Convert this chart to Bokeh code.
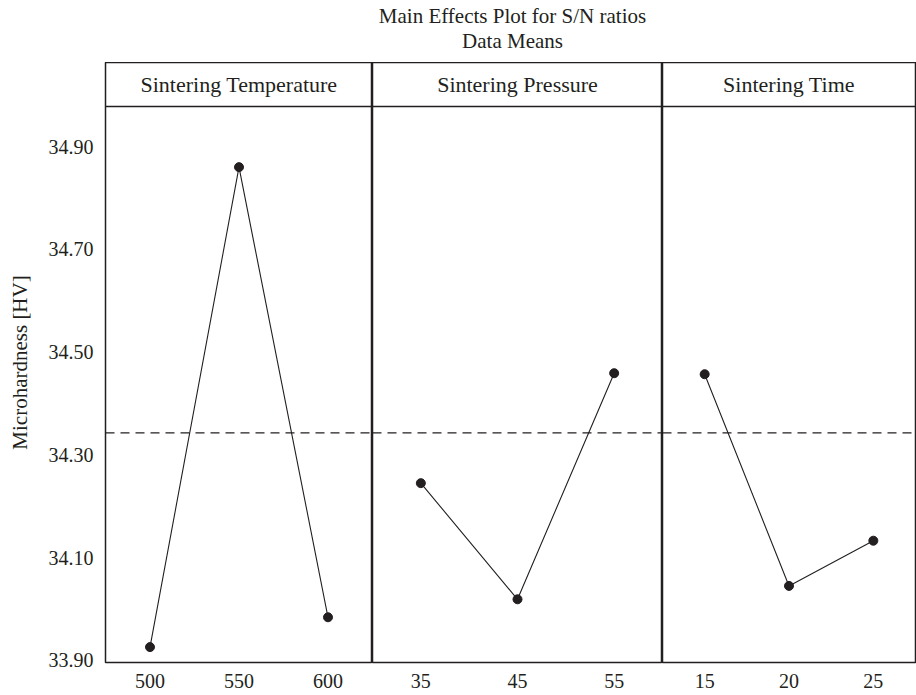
from bokeh.plotting import figure
from bokeh.layouts import column, row
from bokeh.models import Range1d, FactorRange, FixedTicker, PrintfTickFormatter, Span
from bokeh.core.properties import value
from bokeh.embed import file_html
from bokeh.resources import INLINE

# Factor levels and mean S/N responses
factor_names = ["Sintering Temperature", "Sintering Pressure", "Sintering Time"]
temperature_levels = ["500", "550", "600"]
temperature_means = [33.926, 34.860, 33.984]
pressure_levels = ["35", "45", "55"]
pressure_means = [34.245, 34.019, 34.459]
time_levels = ["15", "20", "25"]
time_means = [34.457, 34.045, 34.133]
grand_mean = 34.343
y_ticks = [33.90, 34.10, 34.30, 34.50, 34.70, 34.90]

FONT = "Liberation Serif"
INK = "#231f20"

# vertical geometry: data area plus a header strip inside each frame
frame_h = 600
header_px = 44
y_lo, y_data_top = 33.896, 34.978
units_per_px = (y_data_top - y_lo) / (frame_h - header_px)
y_hi = y_data_top + header_px * units_per_px
header_mid = (y_data_top + y_hi) / 2

panels = [
    (factor_names[0], temperature_levels, temperature_means, 267),
    (factor_names[1], pressure_levels, pressure_means, 290),
    (factor_names[2], time_levels, time_means, 253),
]

figs = []
for i, (name, levels, means, fw) in enumerate(panels):
    first = i == 0
    last = i == len(panels) - 1
    p = figure(
        x_range=FactorRange(*levels),
        y_range=Range1d(y_lo, y_hi),
        frame_width=fw, frame_height=frame_h,
        toolbar_location=None, output_backend="svg",
        y_axis_location="left" if first else None,
        min_border_left=105 if first else 0,
        min_border_right=1 if last else 0,
        min_border_top=0, min_border_bottom=0,
    )
    p.grid.visible = False
    p.outline_line_color = INK
    p.outline_line_width = 1.5
    p.background_fill_color = "white"
    p.border_fill_color = "white"

    xa = p.xaxis[0]
    xa.axis_line_color = None
    xa.major_tick_line_color = None
    xa.minor_tick_line_color = None
    xa.major_label_text_font = FONT
    xa.major_label_text_font_size = "20px"
    xa.major_label_text_color = INK
    xa.major_label_standoff = 5

    if first:
        ya = p.yaxis[0]
        ya.ticker = FixedTicker(ticks=y_ticks)
        ya.formatter = PrintfTickFormatter(format="%.2f")
        ya.axis_line_color = None
        ya.major_tick_line_color = None
        ya.minor_tick_line_color = None
        ya.major_label_text_font = FONT
        ya.major_label_text_font_size = "20px"
        ya.major_label_text_color = INK
        ya.major_label_standoff = 6
        ya.axis_label = "Microhardness [HV]"
        ya.axis_label_text_font = FONT
        ya.axis_label_text_font_size = "21px"
        ya.axis_label_text_font_style = "normal"
        ya.axis_label_text_color = INK
        ya.axis_label_standoff = 14

    # header strip divider and factor name
    p.add_layout(Span(location=y_data_top, dimension="width",
                      line_color=INK, line_width=1.5))
    p.text(x=[levels[1]], y=[header_mid], text=[name],
           text_font=value(FONT), text_font_size="22px", text_color=INK,
           text_align="center", text_baseline="middle")

    # overall mean reference
    p.add_layout(Span(location=grand_mean, dimension="width",
                      line_color=INK, line_width=1.2, line_dash="9 6"))

    p.line(levels, means, line_color=INK, line_width=1.1)
    p.scatter(levels, means, size=9, color=INK)
    figs.append(p)

total_w = 105 + sum(fw for _, _, _, fw in panels) + 1

# title block
t = figure(width=total_w, height=62, x_range=Range1d(0, total_w),
           y_range=Range1d(62, 0), toolbar_location=None,
           output_backend="svg", min_border=0)
t.axis.visible = False
t.grid.visible = False
t.outline_line_color = None
t.text(x=[512, 512], y=[15, 40],
       text=["Main Effects Plot for S/N ratios", "Data Means"],
       text_font=value(FONT), text_font_size="21px", text_color=INK,
       text_align="center", text_baseline="middle")

layout = column(t, row(*figs, spacing=0), spacing=0)
open("out.html", "w").write(file_html(layout, INLINE))
